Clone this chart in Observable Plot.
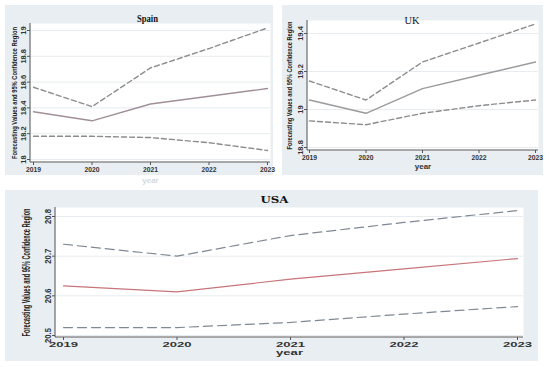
<!DOCTYPE html>
<html>
<head>
<meta charset="utf-8">
<script src="https://cdn.jsdelivr.net/npm/d3@7"></script>
<script src="https://cdn.jsdelivr.net/npm/@observablehq/plot@0.6"></script>
<style>
  html, body { margin: 0; padding: 0; background: #ffffff; }
  #page { position: relative; width: 550px; height: 367px; overflow: hidden; background: #ffffff; }
  .panel { position: absolute; background: #e8eef1; }
  .panel svg { display: block; overflow: visible; }
</style>
</head>
<body>
<div id="page"></div>
<script>
// ---- data ----
const years = [2019, 2020, 2021, 2022, 2023];

const spainForecast = [18.37, 18.30, 18.43, 18.49, 18.55];
const spainUpper    = [18.56, 18.41, 18.71, 18.86, 19.02];
const spainLower    = [18.18, 18.18, 18.17, 18.13, 18.07];
const spainTicks    = [18, 18.2, 18.4, 18.6, 18.8, 19];

const ukForecast = [19.05, 18.98, 19.11, 19.18, 19.25];
const ukUpper    = [19.15, 19.05, 19.25, 19.35, 19.45];
const ukLower    = [18.94, 18.92, 18.98, 19.02, 19.05];
const ukTicks    = [18.8, 19, 19.2, 19.4];

const usaForecast = [20.625, 20.61, 20.642, 20.668, 20.694];
const usaUpper    = [20.73, 20.70, 20.752, 20.785, 20.815];
const usaLower    = [20.52, 20.52, 20.533, 20.554, 20.573];
const usaTicks    = [20.5, 20.6, 20.7, 20.8];

const panelTitles = ["Spain", "UK", "USA"];
const xLabel = "year";
const yLabel = "Forecasting Values and 95% Confidence Region";

// ---- helpers ----
function rows(f, u, l) {
  return years.map((y, i) => ({year: y, forecast: f[i], upper: u[i], lower: l[i]}));
}

function axisLines(color) {
  return (index, scales, values, dims) => {
    const {width, height, marginLeft, marginRight, marginTop, marginBottom} = dims;
    const g = d3.create("svg:g");
    g.append("line")
      .attr("x1", marginLeft).attr("x2", marginLeft)
      .attr("y1", marginTop).attr("y2", height - marginBottom)
      .attr("stroke", color).attr("stroke-width", 1);
    g.append("line")
      .attr("x1", marginLeft).attr("x2", width - marginRight)
      .attr("y1", height - marginBottom).attr("y2", height - marginBottom)
      .attr("stroke", color).attr("stroke-width", 1);
    return g.node();
  };
}

const cfgs = [
  {
    title: panelTitles[0], data: rows(spainForecast, spainUpper, spainLower), ticks: spainTicks,
    domain: [18, 19],
    box: {left: 5, top: 5, width: 268, height: 170},
    margin: {left: 25, right: 3, top: 18, bottom: 13},
    inset: {left: 3, right: 3, top: 7, bottom: 3},
    titleFont: "bold 9.5px 'Liberation Serif'", titleLen: 21, titleDx: -3, titleDy: -8,
    xTickFont: 7.5, xTickLen: 15, yTickFont: 7.5, yTickLen: null,
    yTitleLen: 132, yTitleSize: 7.5, yTitleX: 6,
    xLabelFill: "#d3d9dd", xLabelSize: 8, xLabelLen: null, xLabelOffset: 20,
    forecastColor: "#a08f99", bandColor: "#8c8c8c", dash: "5,3", lineWidth: 1.4
  },
  {
    title: panelTitles[1], data: rows(ukForecast, ukUpper, ukLower), ticks: ukTicks,
    domain: [18.8, 19.4],
    box: {left: 282, top: 5, width: 261, height: 170},
    margin: {left: 25, right: 5, top: 15, bottom: 25},
    inset: {left: 2, right: 3, top: 13, bottom: 3},
    titleFont: "10px 'Liberation Serif'", titleLen: 15, titleDx: -11, titleDy: -4,
    xTickFont: 7.5, xTickLen: 15, yTickFont: 7.5, yTickLen: null,
    yTitleLen: 128, yTitleSize: 7.5, yTitleX: 4,
    xLabelFill: "#333333", xLabelSize: 8, xLabelLen: null, xLabelOffset: 18,
    forecastColor: "#9b9b9b", bandColor: "#8c8c8c", dash: "5,3", lineWidth: 1.4
  },
  {
    title: panelTitles[2], data: rows(usaForecast, usaUpper, usaLower), ticks: usaTicks,
    domain: [20.5, 20.8],
    box: {left: 5, top: 190, width: 533, height: 171},
    margin: {left: 50, right: 15, top: 17, bottom: 24},
    inset: {left: 8, right: 6, top: 9, bottom: 2},
    titleFont: "bold 9px 'DejaVu Serif'", titleLen: 28, titleDx: -15, titleDy: -11,
    xTickFont: 7, xTickLen: 29, yTickFont: 9.5, yTickLen: 15,
    yTitleLen: 128, yTitleSize: 10.5, yTitleX: 17,
    xLabelFill: "#333333", xLabelSize: 8, xLabelLen: 27, xLabelOffset: 17,
    forecastColor: "#c8747a", bandColor: "#7f8895", dash: "9,5", lineWidth: 1.2
  }
];

const page = document.getElementById("page");

for (const c of cfgs) {
  const ink = "#333333";
  const chart = Plot.plot({
    width: c.box.width,
    height: c.box.height,
    marginLeft: c.margin.left,
    marginRight: c.margin.right,
    marginTop: c.margin.top,
    marginBottom: c.margin.bottom,
    style: {background: "transparent", fontFamily: "'Liberation Sans', Arial, sans-serif", color: ink, overflow: "visible"},
    x: {domain: [years[0], years[years.length - 1]], insetLeft: c.inset.left, insetRight: c.inset.right},
    y: {domain: c.domain, insetTop: c.inset.top, insetBottom: c.inset.bottom},
    marks: [
      Plot.frame({fill: "white", stroke: null}),
      Plot.gridY(c.ticks, {stroke: "#e6ecef", strokeOpacity: 1}),
      axisLines("#555555"),
      Plot.axisX({
        ticks: years, tickFormat: d => String(d), tickSize: 3, tickPadding: 1.5,
        fontSize: c.xTickFont, fontWeight: "bold", stroke: "#555555",
        label: xLabel, labelAnchor: "center", labelArrow: "none", labelOffset: c.xLabelOffset
      }),
      Plot.axisY({
        ticks: c.ticks, tickFormat: d => String(d), tickSize: 3, tickPadding: 2,
        tickRotate: -90, textAnchor: "middle", lineAnchor: "bottom",
        fontSize: c.yTickFont, fontWeight: "bold", stroke: "#555555",
        label: yLabel, labelAnchor: "center", labelArrow: "none", labelOffset: c.margin.left - c.yTitleX
      }),
      Plot.line(c.data, {x: "year", y: "upper", stroke: c.bandColor, strokeWidth: c.lineWidth, strokeDasharray: c.dash}),
      Plot.line(c.data, {x: "year", y: "lower", stroke: c.bandColor, strokeWidth: c.lineWidth, strokeDasharray: c.dash}),
      Plot.line(c.data, {x: "year", y: "forecast", stroke: c.forecastColor, strokeWidth: c.lineWidth}),
      Plot.text([c.title], {frameAnchor: "top", dx: c.titleDx, dy: c.titleDy, text: d => d, fill: "#111111"})
    ]
  });
  // style touches
  const svg = d3.select(chart);
  svg.selectAll('[aria-label="text"] text').style("font", c.titleFont)
    .attr("textLength", c.titleLen).attr("lengthAdjust", "spacingAndGlyphs");
  svg.selectAll('[aria-label="y-axis label"] text')
    .attr("textLength", c.yTitleLen).attr("lengthAdjust", "spacingAndGlyphs")
    .style("font-size", c.yTitleSize + "px").style("fill", "#222");
  const xl = svg.selectAll('[aria-label="x-axis label"] text')
    .style("font-size", c.xLabelSize + "px").style("font-weight", "bold").style("fill", c.xLabelFill);
  if (c.xLabelLen) xl.attr("textLength", c.xLabelLen).attr("lengthAdjust", "spacingAndGlyphs");
  if (c.xTickLen) svg.selectAll('[aria-label="x-axis tick label"] text')
    .attr("textLength", c.xTickLen).attr("lengthAdjust", "spacingAndGlyphs");
  if (c.yTickLen) svg.selectAll('[aria-label="y-axis tick label"] text')
    .attr("textLength", c.yTickLen).attr("lengthAdjust", "spacingAndGlyphs");

  const div = document.createElement("div");
  div.className = "panel";
  div.style.left = c.box.left + "px";
  div.style.top = c.box.top + "px";
  div.style.width = c.box.width + "px";
  div.style.height = c.box.height + "px";
  div.appendChild(chart);
  page.appendChild(div);
}
</script>
</body>
</html>
